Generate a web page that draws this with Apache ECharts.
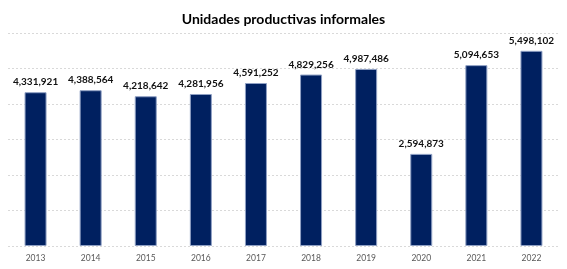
<!DOCTYPE html>
<html><head><meta charset="utf-8">
<script src="https://cdn.jsdelivr.net/npm/echarts@6/dist/echarts.min.js"></script>
<style>html,body{margin:0;padding:0;background:#fff}#c{width:567px;height:269px}</style>
</head><body><div id="c"></div>
<script>
const categories = ['2013','2014','2015','2016','2017','2018','2019','2020','2021','2022'];
const values = [4331921,4388564,4218642,4281956,4591252,4829256,4987486,2594873,5094653,5498102];
const titleText = 'Unidades productivas informales';
const chart = echarts.init(document.getElementById('c'));
chart.setOption({
  animation:false,
  title:{text:titleText,left:'center',top:7,textStyle:{fontFamily:'Lato',fontSize:14,fontWeight:'bold',color:'#000'}},
  grid:{left:8,right:8,top:33,bottom:23},
  xAxis:{type:'category',data:categories,axisLine:{show:false},axisTick:{show:false},
    axisLabel:{fontFamily:'Lato',fontSize:8.5,color:'#595959',margin:8}},
  yAxis:{type:'value',min:0,max:6000000,interval:1000000,axisLabel:{show:false},
    splitLine:{lineStyle:{color:'#d9d9d9',type:[2,2],width:1}}},
  series:[{type:'bar',data:values,barWidth:22,
    itemStyle:{color:'#002060',borderColor:'#8fa0c4',borderWidth:1},
    label:{show:true,position:'top',distance:5,fontFamily:'Lato',fontSize:10,fontWeight:'bold',color:'#111',
      formatter:p=>p.value.toLocaleString('en-US')}}]
});
</script></body></html>
